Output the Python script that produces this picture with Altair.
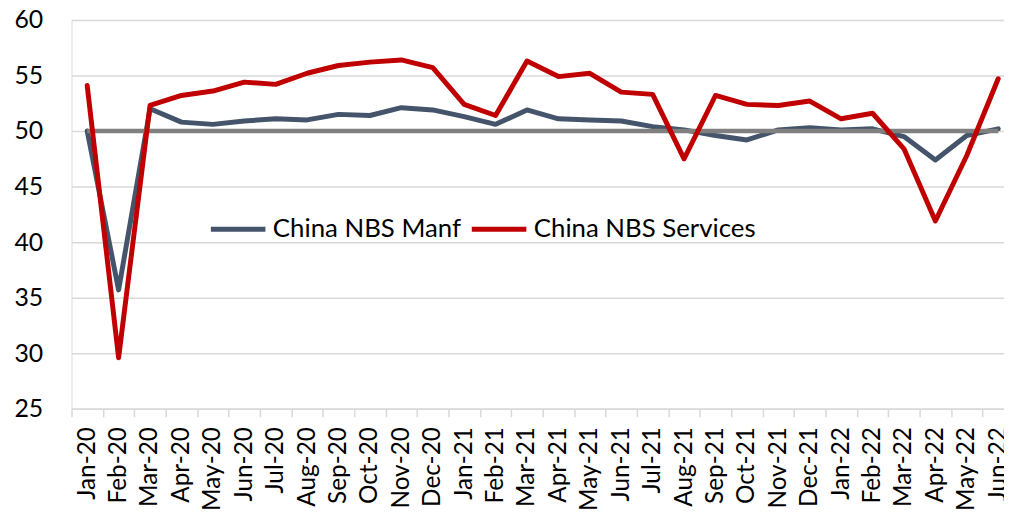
import altair as alt
import pandas as pd

months = ["Jan-20", "Feb-20", "Mar-20", "Apr-20", "May-20", "Jun-20", "Jul-20", "Aug-20",
          "Sep-20", "Oct-20", "Nov-20", "Dec-20", "Jan-21", "Feb-21", "Mar-21", "Apr-21",
          "May-21", "Jun-21", "Jul-21", "Aug-21", "Sep-21", "Oct-21", "Nov-21", "Dec-21",
          "Jan-22", "Feb-22", "Mar-22", "Apr-22", "May-22", "Jun-22"]
manf = [50.0, 35.7, 52.0, 50.8, 50.6, 50.9, 51.1, 51.0, 51.5, 51.4, 52.1, 51.9,
        51.3, 50.6, 51.9, 51.1, 51.0, 50.9, 50.4, 50.1, 49.6, 49.2, 50.1, 50.3,
        50.1, 50.2, 49.5, 47.4, 49.6, 50.2]
services = [54.1, 29.6, 52.3, 53.2, 53.6, 54.4, 54.2, 55.2, 55.9, 56.2, 56.4, 55.7,
            52.4, 51.4, 56.3, 54.9, 55.2, 53.5, 53.3, 47.5, 53.2, 52.4, 52.3, 52.7,
            51.1, 51.6, 48.4, 41.9, 47.8, 54.7]
series_names = ["China NBS Manf", "China NBS Services"]
series_colors = ["#44546A", "#C00000"]
threshold = 50
y_ticks = [25, 30, 35, 40, 45, 50, 55, 60]

df = pd.DataFrame({
    "month": months * 2,
    "value": manf + services,
    "series": [series_names[0]] * len(months) + [series_names[1]] * len(months),
})

FONT = "Lato"

x_enc = alt.X(
    "month:N", sort=months,
    scale=alt.Scale(domain=months, range=[0, 950], paddingInner=0, paddingOuter=0),
    axis=alt.Axis(title=None, labelAngle=270, labelFontSize=24.5, labelFont=FONT,
                  labelColor="#000000", grid=False, domainColor="#D9D9D9",
                  domainWidth=1.5, tickColor="#D9D9D9", tickWidth=1.5, tickSize=8,
                  tickBand="extent", labelPadding=10),
)
y_enc = alt.Y(
    "value:Q",
    scale=alt.Scale(domain=[25, 60], nice=False, zero=False),
    axis=alt.Axis(title=None, values=y_ticks, labelFontSize=25, labelFont=FONT,
                  labelColor="#000000", domain=False, ticks=False, labelPadding=29,
                  gridColor="#D9D9D9", gridWidth=1.5),
)
color_enc = alt.Color(
    "series:N",
    scale=alt.Scale(domain=series_names, range=series_colors),
    legend=alt.Legend(title=None, orient="none", legendX=138, legendY=181,
                      direction="horizontal", symbolType="stroke",
                      symbolStrokeWidth=5, symbolSize=3025, labelFontSize=26,
                      labelFont=FONT, labelColor="#000000", labelOffset=5,
                      labelLimit=0, columnPadding=0),
)

line_style = dict(strokeWidth=5, strokeCap="round", strokeJoin="round")

base = alt.Chart(df)
manf_line = base.transform_filter(alt.datum.series == series_names[0]).mark_line(
    **line_style
).encode(x=x_enc, y=y_enc, color=color_enc)

serv_line = base.transform_filter(alt.datum.series == series_names[1]).mark_line(
    **line_style
).encode(x=x_enc, y=y_enc, color=color_enc)

ref_rule = alt.Chart(pd.DataFrame({"start": [months[0]], "end": [months[-1]], "v": [threshold]})).mark_rule(
    color="#808080", strokeWidth=4.5
).encode(
    x=alt.X("start:N", sort=months),
    x2="end:N",
    y=alt.Y("v:Q"),
)

chart = alt.layer(manf_line, ref_rule, serv_line).properties(
    width=940, height=392,
    autosize=alt.AutoSizeParams(type="none"),
    padding={"left": 64, "top": 10, "right": 0, "bottom": 102},
).configure_view(stroke=None).configure(background="white")

chart.save("out.html", embed_options={"renderer": "svg", "actions": False})
